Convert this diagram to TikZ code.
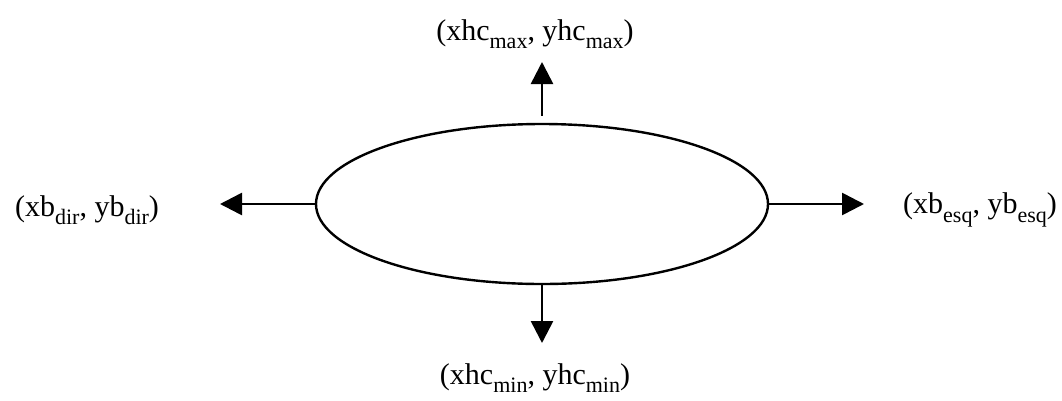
\documentclass[tikz,border=0pt]{standalone}
\usepackage{fontspec}
\setmainfont{Liberation Serif}
\usetikzlibrary{arrows.meta,positioning,shapes.geometric,calc}
\newcommand{\lowsub}[1]{\raisebox{-0.28em}{\fontsize{22}{24}\selectfont #1}}

\begin{document}
\begin{tikzpicture}[
  x=1pt, y=-1pt,
  font=\fontsize{30}{34}\selectfont,
  blob/.style={ellipse, draw=black, line width=2.4pt, inner sep=0pt, minimum width=452pt, minimum height=160pt},
  lbl/.style={inner sep=0pt, anchor=center},
  arr/.style={-{Triangle[length=22pt,width=22pt]}, line width=2.6pt}
]
\useasboundingbox (0,0) rectangle (1062,400);
\node[blob] (hand) at (542,204) {};
% end points of the arrows
\coordinate (topend) at (542,62);
\coordinate (botend) at (542,343);
\coordinate (leftend) at (220,204);
\coordinate (rightend) at (864,204);
\draw[arr] ($(hand.north)+(0,-7)$) -- (topend);
\draw[arr] (hand.south) -- (botend);
\draw[arr] (hand.west) -- (leftend);
\draw[arr] (hand.east) -- (rightend);
% labels
\node[lbl] (hcmax) at (535,34) {(xhc\lowsub{max}, yhc\lowsub{max})};
\node[lbl] (hcmin) at (535,378) {(xhc\lowsub{min}, yhc\lowsub{min})};
\node[lbl] (bdir) at (87,210) {(xb\lowsub{dir}, yb\lowsub{dir})};
\node[lbl] (besq) at (980,210) {(xb\lowsub{esq}, yb\lowsub{esq})};
\end{tikzpicture}
\end{document}
